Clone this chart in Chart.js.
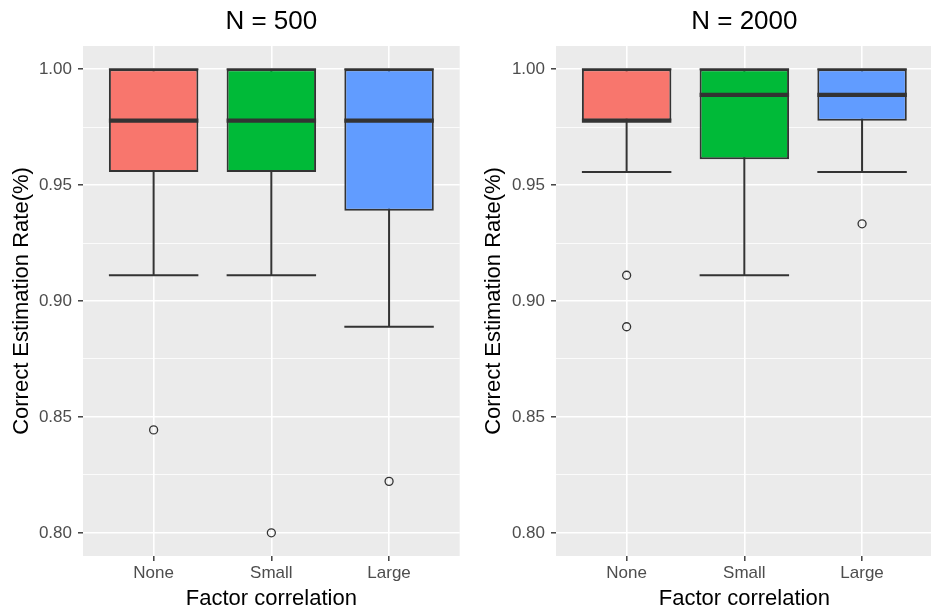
<!DOCTYPE html>
<html>
<head>
<meta charset="utf-8">
<script src="https://cdn.jsdelivr.net/npm/chart.js@4.4.1/dist/chart.umd.min.js"></script>
<style>
  html, body { margin: 0; padding: 0; background: #ffffff; overflow: hidden; }
  #wrap { position: relative; width: 931px; height: 612px; overflow: hidden; }
  canvas { position: absolute; top: 0; }
  #c500 { left: 0; }
  #c2000 { left: 472px; }
</style>
</head>
<body>
<div id="wrap">
<canvas id="c500" width="465" height="612"></canvas>
<canvas id="c2000" width="466" height="612"></canvas>
</div>
<script>
// Factor correlation levels on the x axis
const categories = ['None', 'Small', 'Large'];
// y grid positions (major + minor); majors carry labels
const yTicks = [0.80, 0.825, 0.85, 0.875, 0.90, 0.925, 0.95, 0.975, 1.00];

// N = 500 box statistics
const n500Lower  = [0.9111, 0.9111, 0.8889];
const n500Q1     = [0.9556, 0.9556, 0.9389];
const n500Median = [0.9778, 0.9778, 0.9778];
const n500Q3     = [1.0000, 1.0000, 1.0000];
const n500Upper  = [1.0000, 1.0000, 1.0000];
const n500Outliers = [[0.8444], [0.8000], [0.8222]];

// N = 2000 box statistics
const n2000Lower  = [0.9556, 0.9111, 0.9556];
const n2000Q1     = [0.9778, 0.9611, 0.9778];
const n2000Median = [0.9778, 0.9889, 0.9889];
const n2000Q3     = [1.0000, 1.0000, 1.0000];
const n2000Upper  = [1.0000, 1.0000, 1.0000];
const n2000Outliers = [[0.9111, 0.8889], [], [0.9333]];

const fills = ['#F8766D', '#00BA38', '#619CFF'];
const INK = '#333333';
const FONT = "'Liberation Sans', Arial, Helvetica, sans-serif";

const isMajor = v => Math.abs(v * 20 - Math.round(v * 20)) < 1e-6;

// Panel background, whiskers with caps, and median bars
const boxParts = {
  id: 'boxParts',
  beforeDraw(chart) {
    const a = chart.chartArea, ctx = chart.ctx;
    ctx.save();
    ctx.fillStyle = '#EBEBEB';
    ctx.fillRect(a.left, a.top, a.right - a.left, a.bottom - a.top);
    ctx.restore();
  },
  beforeDatasetsDraw(chart, args, opts) {
    const ctx = chart.ctx, xs = chart.scales.x, ys = chart.scales.y;
    const bars = chart.getDatasetMeta(0).data;
    ctx.save();
    ctx.strokeStyle = INK;
    ctx.lineWidth = 2;
    ctx.lineCap = 'butt';
    opts.lower.forEach((lo, i) => {
      const x = xs.getPixelForValue(i + 1);
      const half = bars[i].width / 2;
      const yLo = ys.getPixelForValue(lo);
      const yHi = ys.getPixelForValue(opts.upper[i]);
      ctx.beginPath();
      ctx.moveTo(x, yLo); ctx.lineTo(x, yHi);
      ctx.moveTo(x - half, yLo); ctx.lineTo(x + half, yLo);
      ctx.moveTo(x - half, yHi); ctx.lineTo(x + half, yHi);
      ctx.stroke();
    });
    ctx.restore();
  },
  afterDatasetsDraw(chart, args, opts) {
    const ctx = chart.ctx, xs = chart.scales.x, ys = chart.scales.y;
    const bars = chart.getDatasetMeta(0).data;
    ctx.save();
    ctx.strokeStyle = INK;
    ctx.lineWidth = 4.2;
    ctx.lineCap = 'butt';
    opts.median.forEach((m, i) => {
      const x = xs.getPixelForValue(i + 1);
      const half = bars[i].width / 2;
      const y = ys.getPixelForValue(m);
      ctx.beginPath();
      ctx.moveTo(x - half, y); ctx.lineTo(x + half, y);
      ctx.stroke();
    });
    ctx.restore();
  }
};

function makePanel(canvasId, title, lower, q1, median, q3, upper, outliers, yAxisWidth) {
  const boxes = categories.map((c, i) => ({ x: i + 1, y: [q1[i], q3[i]] }));
  const points = outliers.flatMap((arr, i) => arr.map(v => ({ x: i + 1, y: v })));
  return new Chart(document.getElementById(canvasId), {
    type: 'bar',
    data: {
      datasets: [
        {
          type: 'bar',
          data: boxes,
          backgroundColor: fills,
          borderColor: INK,
          borderWidth: 2,
          borderSkipped: false,
          categoryPercentage: 1,
          barPercentage: 0.76,
          order: 2
        },
        {
          type: 'scatter',
          data: points,
          pointStyle: 'circle',
          pointRadius: 4,
          pointBorderWidth: 1.3,
          pointBorderColor: INK,
          pointBackgroundColor: 'rgba(0,0,0,0)',
          order: 1
        }
      ]
    },
    options: {
      responsive: false,
      animation: false,
      devicePixelRatio: 1,
      layout: { padding: { left: 0, right: 2, top: 0, bottom: 0 } },
      plugins: {
        legend: { display: false },
        tooltip: { enabled: false },
        title: {
          display: true,
          text: title,
          fullSize: false,
          color: '#000000',
          font: { family: FONT, size: 26, weight: 'normal', lineHeight: 1.2 },
          padding: { top: 6.4, bottom: 8.4 }
        },
        boxParts: { lower, upper, median }
      },
      scales: {
        x: {
          type: 'linear',
          min: 0.4,
          max: 3.6,
          offset: false,
          afterBuildTicks: s => { s.ticks = categories.map((c, i) => ({ value: i + 1 })); },
          afterFit: s => { s.height = 56; s.paddingLeft = 0; s.paddingRight = 0; },
          border: { display: false },
          grid: {
            offset: false,
            color: '#FFFFFF',
            lineWidth: 1.6,
            tickColor: INK,
            tickWidth: 1.4,
            tickLength: 5
          },
          ticks: {
            autoSkip: false,
            maxRotation: 0,
            padding: 2,
            color: '#4D4D4D',
            font: { family: FONT, size: 17, lineHeight: 1.2 },
            callback: v => categories[Math.round(v) - 1]
          },
          title: {
            display: true,
            text: 'Factor correlation',
            color: '#000000',
            font: { family: FONT, size: 22, lineHeight: 1.2 },
            padding: { top: 3, bottom: 0 }
          }
        },
        y: {
          type: 'linear',
          min: 0.79,
          max: 1.01,
          afterBuildTicks: s => { s.ticks = yTicks.map(v => ({ value: v })); },
          afterFit: s => { s.width = yAxisWidth; s.paddingTop = 0; s.paddingBottom = 0; },
          border: { display: false },
          grid: {
            color: '#FFFFFF',
            lineWidth: ctx => (ctx.tick && isMajor(ctx.tick.value) ? 1.6 : 0.8),
            tickColor: ctx => (ctx.tick && isMajor(ctx.tick.value) ? INK : 'rgba(0,0,0,0)'),
            tickWidth: 1.4,
            tickLength: 5
          },
          ticks: {
            autoSkip: false,
            padding: 6,
            color: '#4D4D4D',
            font: { family: FONT, size: 17, lineHeight: 1.2 },
            callback: v => (isMajor(v) ? v.toFixed(2) : '')
          },
          title: {
            display: true,
            text: 'Correct Estimation Rate(%)',
            color: '#000000',
            font: { family: FONT, size: 22, lineHeight: 1.2 },
            padding: { top: 8.8, bottom: 0 }
          }
        }
      }
    },
    plugins: [boxParts]
  });
}

makePanel('c500', 'N = 500', n500Lower, n500Q1, n500Median, n500Q3, n500Upper, n500Outliers, 83);
makePanel('c2000', 'N = 2000', n2000Lower, n2000Q1, n2000Median, n2000Q3, n2000Upper, n2000Outliers, 84);
</script>
</body>
</html>
